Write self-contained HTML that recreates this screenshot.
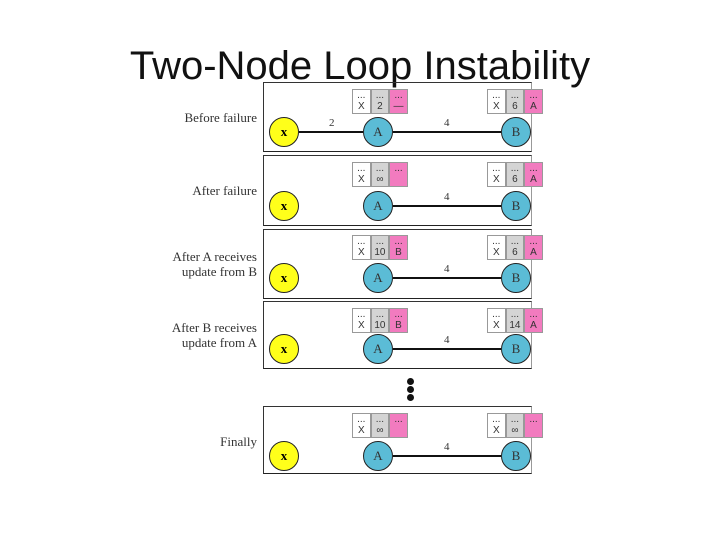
<!DOCTYPE html>
<html><head><style>
body{margin:0;width:720px;height:540px;background:#fff;overflow:hidden;position:relative;font-family:"Liberation Serif",serif}
.t{position:absolute;left:0;width:720px;text-align:center;top:44px;font:40px "Liberation Sans",sans-serif;color:#111}
.p{position:absolute;left:263px;width:267px;border:1.5px solid #333;border-right-color:#999;border-bottom-color:#222}
.l{position:absolute;right:463px;text-align:right;font-size:13px;color:#333;line-height:15px}
.c{position:absolute;width:30px;height:30px;border-radius:50%;border:1.5px solid #222;box-sizing:border-box;text-align:center;line-height:28px;font-size:13px}
.y{background:#ffff1a;font-weight:bold}.b{background:#5bbcd6;color:#333}
.tb{position:absolute;display:flex;height:25px}
.tb div{width:18.6px;height:25px;box-sizing:border-box;border:1px solid #999;font:10px "Liberation Sans",sans-serif;text-align:center;line-height:11px;color:#333}
.w{background:#fff}.g{background:#d4d4d4}.k{background:#f27bbf}
.ln{position:absolute;height:1.5px;background:#111}
.n{position:absolute;font-size:11px;color:#333}
.d{position:absolute;left:407px;width:7px;height:7px;border-radius:50%;background:#111}
</style></head><body>
<div class="t">Two-Node Loop Instability</div>
<div class="p" style="top:82px;height:68px"></div>
<div class="p" style="top:155px;height:69px"></div>
<div class="p" style="top:229px;height:68px"></div>
<div class="p" style="top:301px;height:66px"></div>
<div class="p" style="top:406px;height:66px"></div>
<div class="l" style="top:110px">Before failure</div>
<div class="l" style="top:183px">After failure</div>
<div class="l" style="top:249px">After A receives<br>update from B</div>
<div class="l" style="top:320px">After B receives<br>update from A</div>
<div class="l" style="top:434px">Finally</div>
<div class="d" style="top:378px"></div><div class="d" style="top:386px"></div><div class="d" style="top:394px"></div>
<!-- panel rows -->
<div class="ln" style="left:299px;width:64px;top:131px"></div><div class="n" style="left:329px;top:117px">2</div>
<div class="ln" style="left:393px;width:108px;top:131px"></div><div class="n" style="left:444px;top:117px">4</div>
<div class="ln" style="left:393px;width:108px;top:205px;height:2px"></div><div class="n" style="left:444px;top:191px">4</div>
<div class="ln" style="left:393px;width:108px;top:277px"></div><div class="n" style="left:444px;top:263px">4</div>
<div class="ln" style="left:393px;width:108px;top:348px"></div><div class="n" style="left:444px;top:334px">4</div>
<div class="ln" style="left:393px;width:108px;top:455px"></div><div class="n" style="left:444px;top:441px">4</div>

<div class="c y" style="left:269px;top:117px">x</div><div class="c b" style="left:363px;top:117px">A</div><div class="c b" style="left:501px;top:117px">B</div>
<div class="c y" style="left:269px;top:191px">x</div><div class="c b" style="left:363px;top:191px">A</div><div class="c b" style="left:501px;top:191px">B</div>
<div class="c y" style="left:269px;top:263px">x</div><div class="c b" style="left:363px;top:263px">A</div><div class="c b" style="left:501px;top:263px">B</div>
<div class="c y" style="left:269px;top:334px">x</div><div class="c b" style="left:363px;top:334px">A</div><div class="c b" style="left:501px;top:334px">B</div>
<div class="c y" style="left:269px;top:441px">x</div><div class="c b" style="left:363px;top:441px">A</div><div class="c b" style="left:501px;top:441px">B</div>

<div class="tb" style="left:352px;top:89px"><div class="w">...<br>X</div><div class="g">...<br>2</div><div class="k">...<br>—</div></div>
<div class="tb" style="left:487px;top:89px"><div class="w">...<br>X</div><div class="g">...<br>6</div><div class="k">...<br>A</div></div>
<div class="tb" style="left:352px;top:162px"><div class="w">...<br>X</div><div class="g">...<br>∞</div><div class="k">...</div></div>
<div class="tb" style="left:487px;top:162px"><div class="w">...<br>X</div><div class="g">...<br>6</div><div class="k">...<br>A</div></div>
<div class="tb" style="left:352px;top:235px"><div class="w">...<br>X</div><div class="g">...<br>10</div><div class="k">...<br>B</div></div>
<div class="tb" style="left:487px;top:235px"><div class="w">...<br>X</div><div class="g">...<br>6</div><div class="k">...<br>A</div></div>
<div class="tb" style="left:352px;top:308px"><div class="w">...<br>X</div><div class="g">...<br>10</div><div class="k">...<br>B</div></div>
<div class="tb" style="left:487px;top:308px"><div class="w">...<br>X</div><div class="g">...<br>14</div><div class="k">...<br>A</div></div>
<div class="tb" style="left:352px;top:413px"><div class="w">...<br>X</div><div class="g">...<br>∞</div><div class="k">...</div></div>
<div class="tb" style="left:487px;top:413px"><div class="w">...<br>X</div><div class="g">...<br>∞</div><div class="k">...</div></div>
</body></html>
